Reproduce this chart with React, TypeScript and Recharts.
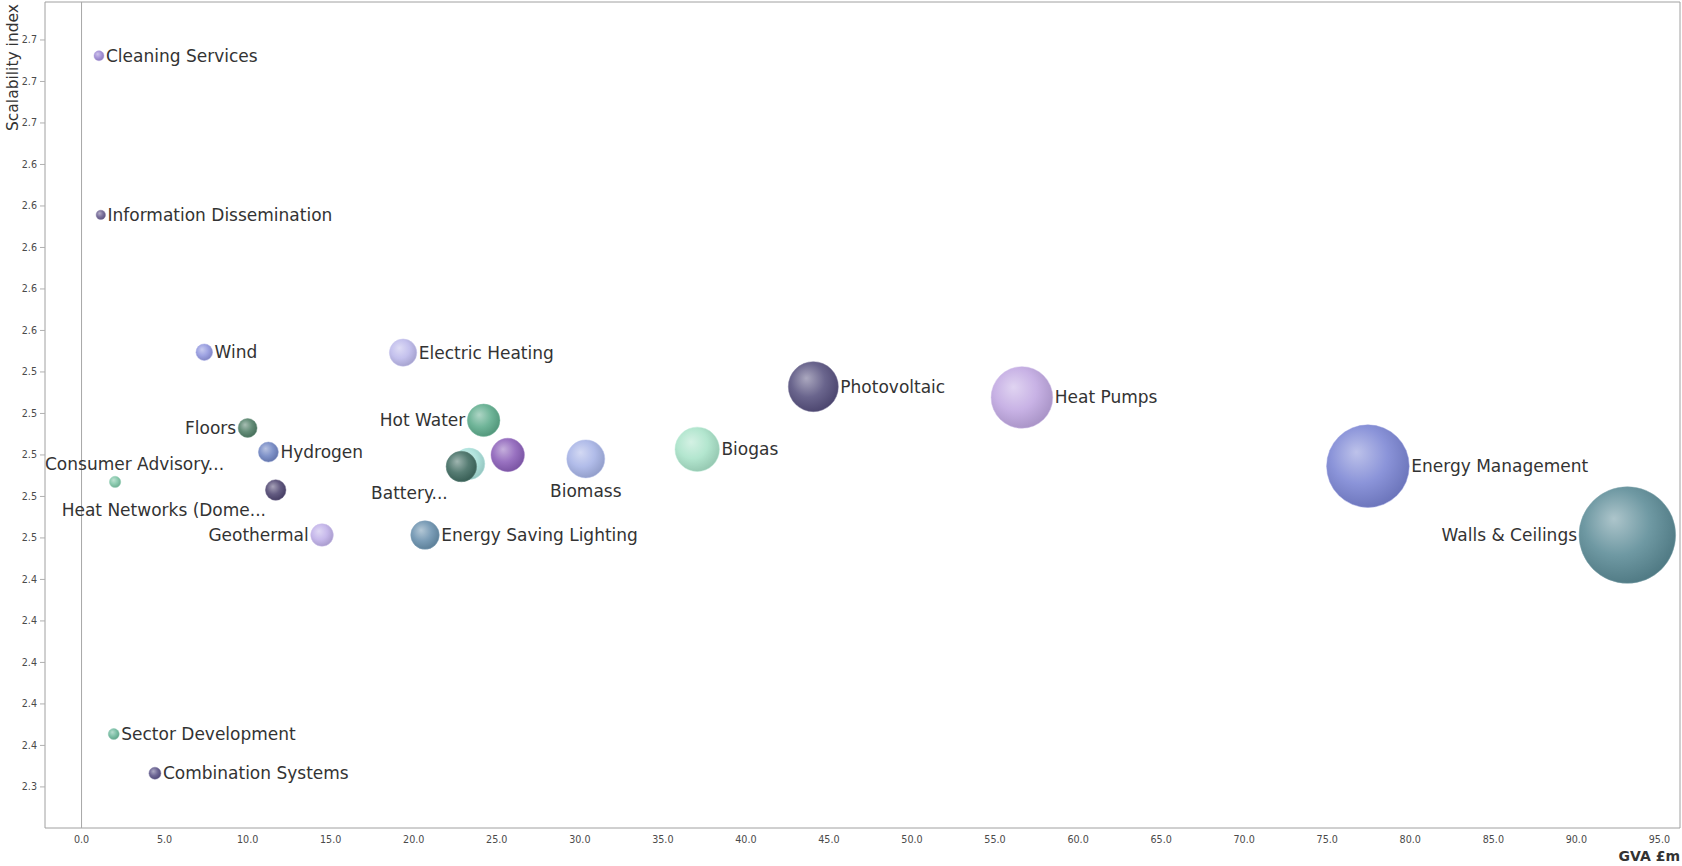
import React from 'react';
import { ScatterChart, Scatter, XAxis, YAxis, ZAxis, ReferenceArea, ReferenceLine, Label } from 'recharts';

// ---- data ----
const names = [
  'Cleaning Services',
  'Information Dissemination',
  'Wind',
  'Electric Heating',
  'Photovoltaic',
  'Heat Pumps',
  'Floors',
  'Hot Water',
  'Hydrogen',
  '',
  'Biomass',
  'Biogas',
  '',
  'Battery...',
  'Energy Management',
  'Consumer Advisory...',
  'Heat Networks (Dome...',
  'Geothermal',
  'Energy Saving Lighting',
  'Walls & Ceilings',
  'Sector Development',
  'Combination Systems',
];
const gva = [1.05, 1.16, 7.39, 19.36, 44.06, 56.62, 10.0, 24.21, 11.25, 25.66, 30.36, 37.07, 23.33, 22.87, 77.45, 2.02, 11.69, 14.48, 20.68, 93.07, 1.94, 4.42];
const scalability = [2.6924, 2.6157, 2.5495, 2.5493, 2.5329, 2.5277, 2.513, 2.5167, 2.5014, 2.5, 2.4981, 2.5027, 2.4957, 2.4944, 2.4946, 2.487, 2.4831, 2.4614, 2.4614, 2.4614, 2.3655, 2.3466];
const bubbleSize = [25, 22, 69, 188, 625, 950, 90, 266, 100, 279, 361, 493, 250, 234, 1706, 32, 106, 128, 204, 2333, 30, 36];

const xTicks = [0, 5, 10, 15, 20, 25, 30, 35, 40, 45, 50, 55, 60, 65, 70, 75, 80, 85, 90, 95];
const yTicks = [2.34, 2.36, 2.38, 2.4, 2.42, 2.44, 2.46, 2.48, 2.5, 2.52, 2.54, 2.56, 2.58, 2.6, 2.62, 2.64, 2.66, 2.68, 2.7];
const X_DOMAIN: [number, number] = [-2.2, 96.24];
const Y_DOMAIN: [number, number] = [2.3202, 2.7183];

// ---- styles ----
const bubbleColors = [
  '#9c88d4', '#6a5f90', '#9196de', '#bcb8ea', '#56507e', '#c0a8e2', '#4f7d66', '#5cab8b',
  '#6f84c2', '#8b5fb9', '#a6b3e6', '#a9e3c9', '#a8e0da', '#3f6a60', '#7b85d4', '#7cc4a5',
  '#4e4570', '#bfb0e8', '#6990ad', '#5b8b96', '#6db99c', '#5b5388',
];
type Place = { side: 'right' | 'left' | 'custom'; dx?: number; dy?: number; anchor?: 'start' | 'middle' | 'end' };
const labelPlacement: Record<number, Place> = {
  6: { side: 'left' },
  7: { side: 'left' },
  10: { side: 'custom', dx: 0, dy: 32, anchor: 'middle' },
  13: { side: 'custom', dx: -13.6, dy: 26, anchor: 'end' },
  15: { side: 'custom', dx: 109, dy: -18, anchor: 'end' },
  16: { side: 'custom', dx: -9.7, dy: 20, anchor: 'end' },
  17: { side: 'left' },
  19: { side: 'left' },
};

const FONT = '"DejaVu Sans", Verdana, sans-serif';

const data = names.map((name, i) => ({ name, x: gva[i], y: scalability[i], z: bubbleSize[i], i }));

function mix(hex: string, target: string, t: number) {
  const p = (h: string) => [1, 3, 5].map((k) => parseInt(h.slice(k, k + 2), 16));
  const a = p(hex);
  const b = p(target);
  const c = a.map((v, k) => Math.round(v + (b[k] - v) * t));
  return '#' + c.map((v) => v.toString(16).padStart(2, '0')).join('');
}

const Bubble = (props: any) => {
  const { cx, cy, width, payload } = props;
  if (cx == null || cy == null) return null;
  const r = (width || 0) / 2;
  const i = payload.i;
  const base = bubbleColors[i];
  const id = `bub-grad-${i}`;
  const place: Place = labelPlacement[i] || { side: 'right' };
  let tx = cx + r + 2;
  let ty = cy;
  let anchor: 'start' | 'middle' | 'end' = 'start';
  if (place.side === 'left') {
    tx = cx - r - 2;
    anchor = 'end';
  } else if (place.side === 'custom') {
    tx = cx + (place.dx || 0);
    ty = cy + (place.dy || 0);
    anchor = place.anchor || 'start';
  }
  return (
    <g>
      <defs>
        <radialGradient id={id} cx="42%" cy="40%" r="62%" fx="36%" fy="33%">
          <stop offset="0%" stopColor={mix(base, '#ffffff', 0.5)} />
          <stop offset="55%" stopColor={mix(base, '#ffffff', 0.12)} />
          <stop offset="100%" stopColor={mix(base, '#000000', 0.12)} />
        </radialGradient>
      </defs>
      <circle cx={cx} cy={cy} r={r} fill={`url(#${id})`} stroke={mix(base, '#ffffff', 0.2)} strokeOpacity={0.6} strokeWidth={0.8} />
      {payload.name ? (
        <text x={tx} y={ty} dy="0.35em" textAnchor={anchor} fontFamily={FONT} fontSize={17} fill="#333333">
          {payload.name}
        </text>
      ) : null}
    </g>
  );
};

const YTitle = (props: any) => {
  const vb = props.viewBox || { x: 0, y: 0 };
  const x = vb.x + 18;
  const y = vb.y + 2;
  return (
    <text x={x} y={y} transform={`rotate(-90, ${x}, ${y})`} textAnchor="end" fontFamily={FONT} fontSize={15.5} fill="#333333">
      Scalability index
    </text>
  );
};

const XTitle = (props: any) => {
  const vb = props.viewBox || { x: 0, y: 0, width: 0 };
  return (
    <text x={vb.x + vb.width} y={vb.y + 33} textAnchor="end" fontFamily={FONT} fontWeight="bold" fontSize={14} fill="#333333">
      GVA £m
    </text>
  );
};

export default function App() {
  return (
    <div style={{ position: 'absolute', left: 0, top: 0, width: 1682, height: 866, background: '#ffffff', fontFamily: FONT }}>
      <ScatterChart width={1682} height={866} margin={{ top: 2, right: 2, bottom: 0, left: 0 }}>
        <XAxis
          type="number"
          dataKey="x"
          domain={X_DOMAIN}
          ticks={xTicks}
          allowDataOverflow
          interval={0}
          height={38}
          axisLine={false}
          tickLine={false}
          tickSize={4}
          tickMargin={4}
          tickFormatter={(v: number) => v.toFixed(1)}
          tick={{ fontSize: 9.6, fill: '#4a4a4a', fontFamily: FONT }}
        >
          <Label content={XTitle} />
        </XAxis>
        <YAxis
          type="number"
          dataKey="y"
          domain={Y_DOMAIN}
          ticks={yTicks}
          allowDataOverflow
          interval={0}
          width={45}
          axisLine={false}
          tickLine={{ stroke: '#b0b0b0' }}
          tickSize={5}
          tickMargin={3}
          tickFormatter={(v: number) => v.toFixed(1)}
          tick={{ fontSize: 9.6, fill: '#4a4a4a', fontFamily: FONT }}
        >
          <Label content={YTitle} />
        </YAxis>
        <ZAxis type="number" dataKey="z" domain={[0, 2500]} range={[0, 2500 * Math.PI]} />
        <ReferenceArea x1={X_DOMAIN[0]} x2={X_DOMAIN[1]} y1={Y_DOMAIN[0]} y2={Y_DOMAIN[1]} fill="none" fillOpacity={0} stroke="#a0a0a0" strokeWidth={1} ifOverflow="visible" />
        <ReferenceLine x={0} stroke="#a8a8a8" strokeWidth={1} ifOverflow="visible" />
        <Scatter data={data} shape={Bubble} isAnimationActive={false} />
      </ScatterChart>
    </div>
  );
}
